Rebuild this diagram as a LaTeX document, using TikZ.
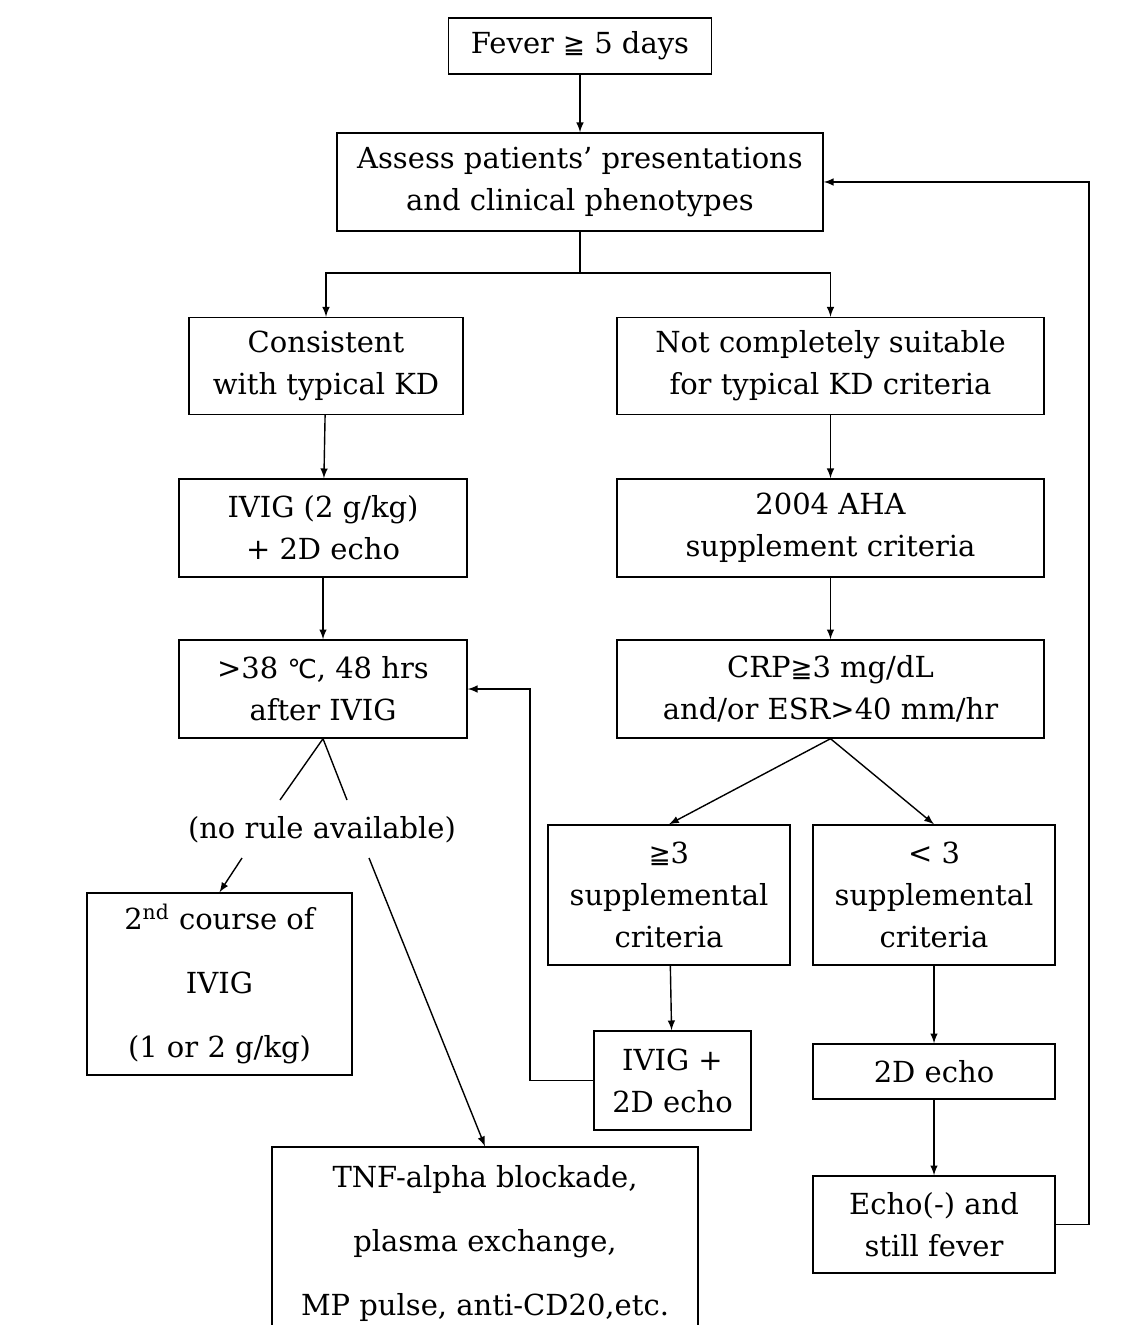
\documentclass[tikz,border=0pt]{standalone}
\usepackage{fontspec}
\setmainfont{DejaVu Serif}
\newfontfamily\symb{DejaVu Sans}[Scale=0.9]
\newcommand{\gq}{{\symb\char"2267}}
\newcommand{\degc}{{\symb\char"2103}}
\tikzset{
  box/.style={draw, align=center, inner sep=0pt, line width=0.7pt},
}
\begin{document}
\begin{tikzpicture}[->, >=latex, x=0.5pt, y=-0.5pt, line width=0.7pt, font=\fontsize{14.5}{21}\selectfont]
\clip (0,0) rectangle (1140,1325);
\fill[white] (0,0) rectangle (1140,1325);

% left column
\node[box, minimum width=131.5pt, minimum height=28pt] (fever) at (580,46) {Fever \gq\ 5 days};
\node[box, minimum width=243pt, minimum height=49pt] (assess) at (580,182) {Assess patients' presentations\\and clinical phenotypes};
\node[box, minimum width=137pt, minimum height=48.5pt] (typical) at (326,366) {Consistent\\with typical KD};
\node[box, minimum width=144pt, minimum height=49pt] (ivig) at (323,528) {IVIG (2 g/kg)\\+ 2D echo};
\node[box, minimum width=144pt, minimum height=49pt] (fever48) at (323,689) {>38 \degc, 48 hrs\\after IVIG};
\node (norule) at (322,830) {(no rule available)};
\node[box, minimum width=132.5pt, minimum height=91pt] (course) at (219.5,984) {2\textsuperscript{nd} course of\\[11pt]IVIG\\[11pt](1 or 2 g/kg)};
\node[box, minimum width=213pt, minimum height=96pt] (tnf) at (485,1243) {TNF-alpha blockade,\\[11pt]plasma exchange,\\[11pt]MP pulse, anti-CD20,etc.};

% right column
\node[box, minimum width=213.5pt, minimum height=48.5pt] (notsuit) at (830.5,366) {Not completely suitable\\for typical KD criteria};
\node[box, minimum width=213.5pt, minimum height=49pt] (aha) at (830.5,528) {2004 AHA\\supplement criteria};
\node[box, minimum width=213.5pt, minimum height=49pt] (crp) at (830.5,689) {CRP\gq3 mg/dL\\and/or ESR>40 mm/hr};
\node[box, minimum width=121pt, minimum height=70pt] (geq3) at (669,895) {\gq3\\supplemental\\criteria};
\node[box, minimum width=121pt, minimum height=70pt] (lt3) at (934,895) {< 3\\supplemental\\criteria};
\node[box, minimum width=78.5pt, minimum height=49.5pt] (ivigecho) at (672.5,1080.5) {IVIG +\\2D echo};
\node[box, minimum width=121pt, minimum height=27.5pt] (echo) at (934,1071.5) {2D echo};
\node[box, minimum width=121pt, minimum height=48.5pt] (still) at (934,1224.5) {Echo(-) and\\still fever};

\coordinate (split) at (580,273);
\coordinate (back1) at (530,1080.5);
\coordinate (back2) at (1089,1224.5);
\coordinate (nl) at (280,800);
\coordinate (nr) at (347,800);
\coordinate (ca) at (242,858);
\coordinate (cb) at (369,858);

\draw (fever) -- (assess);
\draw[-] (assess) -- (split);
\draw (split) -| (typical);
\draw (split) -| (notsuit);
\draw (typical) -- (ivig);
\draw (ivig) -- (fever48);
\draw (notsuit) -- (aha);
\draw (aha) -- (crp);
\draw (crp.south) -- (geq3.north);
\draw (crp.south) -- (lt3.north);
\draw (geq3) -- (ivigecho);
\draw (lt3) -- (echo);
\draw (echo) -- (still);
\draw (ivigecho.west) -- (back1) |- (fever48.east);
\draw (still.east) -- (back2) |- (assess.east);
\draw[-] (nl) -- (fever48.south) -- (nr);
\draw (ca) -- (course.north);
\draw (cb) -- (tnf.north);

\end{tikzpicture}
\end{document}
